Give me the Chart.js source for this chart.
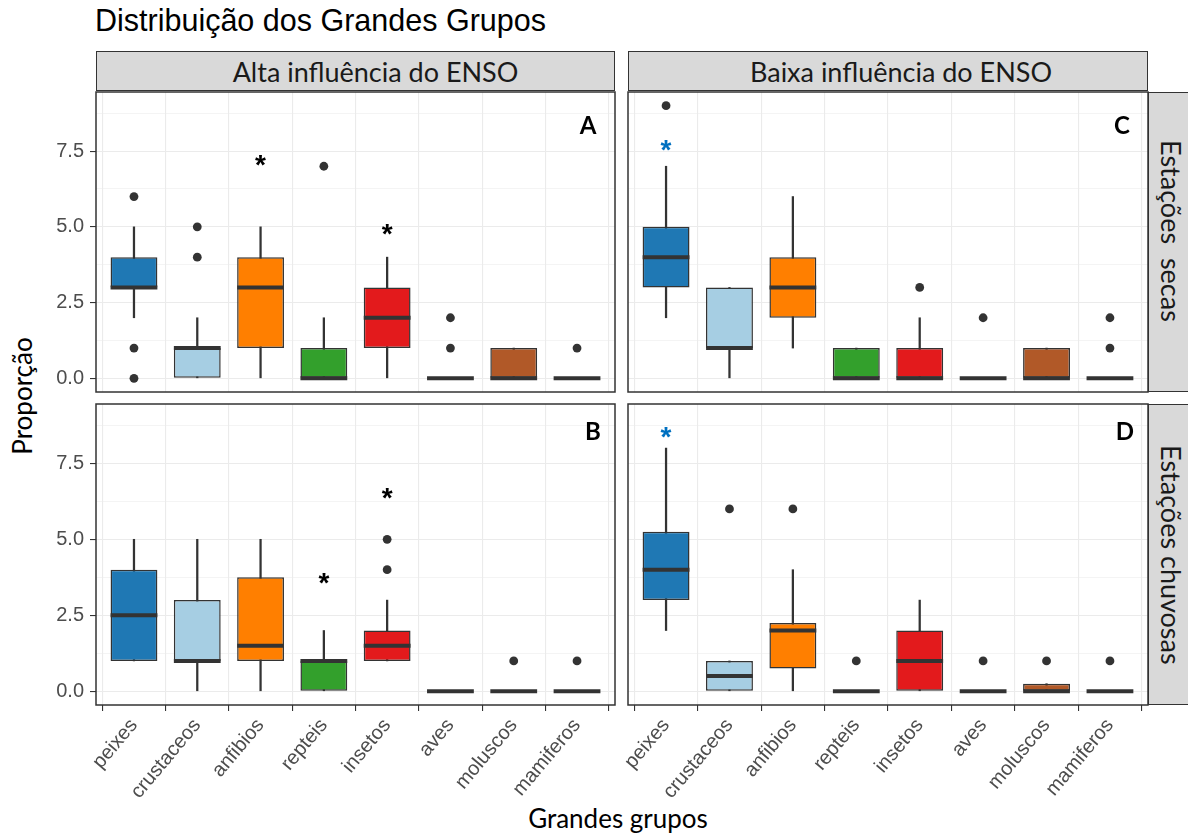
<!DOCTYPE html>
<html lang="pt">
<head>
<meta charset="utf-8">
<title>Distribuição dos Grandes Grupos</title>
<script src="https://cdn.jsdelivr.net/npm/chart.js@4"></script>
<style>
body{margin:0;background:#fff;width:1188px;height:835px;position:relative;overflow:hidden;font-family:Lato,sans-serif}
canvas{position:absolute}
.txt{position:absolute;white-space:pre;color:#000}
.strip{position:absolute;box-sizing:border-box;background:#d9d9d9;border:1.5px solid #333;display:flex;align-items:center;justify-content:center;font-size:27px;color:#1a1a1a;white-space:pre}
.strip.v{writing-mode:vertical-rl}
</style>
</head>
<body>
<div class="txt" style="left:95px;top:3px;font:30.5px/35px 'Liberation Sans',Arial,sans-serif">Distribuição dos Grandes Grupos</div>
<div class="strip" style="left:96px;top:51px;width:519px;height:40px;padding-left:40px">Alta influência do ENSO</div>
<div class="strip" style="left:628px;top:51px;width:520px;height:40px;padding-left:26px">Baixa influência do ENSO</div>
<div class="strip v" style="left:1148px;top:92px;width:46px;height:300px;padding-bottom:22px">Estações  secas</div>
<div class="strip v" style="left:1148px;top:404px;width:46px;height:301px">Estações chuvosas</div>
<div class="txt" style="left:22px;top:396px;font-size:26px;transform:translate(-50%,-50%) rotate(-90deg)">Proporção</div>
<div class="txt" style="left:618px;top:818px;font-size:26px;transform:translate(-50%,-50%)">Grandes grupos</div>

<canvas id="pA" width="620" height="308" style="left:0;top:88px"></canvas>
<canvas id="pC" width="540" height="308" style="left:620px;top:88px"></canvas>
<canvas id="pB" width="620" height="435" style="left:0;top:400px"></canvas>
<canvas id="pD" width="540" height="435" style="left:620px;top:400px"></canvas>

<script>
const groups = ['peixes','crustaceos','anfibios','repteis','insetos','aves','moluscos','mamiferos'];
const fills = ['#1f78b4','#a6cee3','#ff7f00','#33a02c','#e31a1c','#fb9a99','#b15928','#cab2d6'];
const yTicks = [0, 2.5, 5, 7.5];

// A: alta influencia, estacoes secas
const aLow  = [2, 0, 0, 0, 0, 0, 0, 0];
const aQ1   = [3, 0, 1, 0, 1, 0, 0, 0];
const aMed  = [3, 1, 3, 0, 2, 0, 0, 0];
const aQ3   = [4, 1, 4, 1, 3, 0, 1, 0];
const aHigh = [5, 2, 5, 2, 4, 0, 1, 0];
const aOut  = [[6, 1, 0], [4, 5], [], [7], [], [1, 2], [], [1]];
const aStar = [null, null, 7.2, null, 4.9, null, null, null];

// B: alta influencia, estacoes chuvosas
const bLow  = [1, 0, 0, 0, 1, 0, 0, 0];
const bQ1   = [1, 1, 1, 0, 1, 0, 0, 0];
const bMed  = [2.5, 1, 1.5, 1, 1.5, 0, 0, 0];
const bQ3   = [4, 3, 3.75, 1, 2, 0, 0, 0];
const bHigh = [5, 5, 5, 2, 3, 0, 0, 0];
const bOut  = [[], [], [], [], [4, 5], [], [1], [1]];
const bStar = [null, null, null, 3.7, 6.5, null, null, null];

// C: baixa influencia, estacoes secas
const cLow  = [2, 0, 1, 0, 0, 0, 0, 0];
const cQ1   = [3, 1, 2, 0, 0, 0, 0, 0];
const cMed  = [4, 1, 3, 0, 0, 0, 0, 0];
const cQ3   = [5, 3, 4, 1, 1, 0, 1, 0];
const cHigh = [7, 3, 6, 1, 2, 0, 1, 0];
const cOut  = [[9], [], [], [], [3], [2], [], [1, 2]];
const cStar = [7.7, null, null, null, null, null, null, null];

// D: baixa influencia, estacoes chuvosas
const dLow  = [2, 0, 0, 0, 0, 0, 0, 0];
const dQ1   = [3, 0, 0.75, 0, 0, 0, 0, 0];
const dMed  = [4, 0.5, 2, 0, 1, 0, 0, 0];
const dQ3   = [5.25, 1, 2.25, 0, 2, 0, 0.25, 0];
const dHigh = [8, 1, 4, 0, 3, 0, 0.25, 0];
const dOut  = [[], [6], [6], [1], [], [1], [1], [1]];
const dStar = [8.5, null, null, null, null, null, null, null];

Chart.defaults.font.family = '"Liberation Sans", Arial, sans-serif';

const panelDecor = {
  id: 'panelDecor',
  afterDatasetsDraw(chart, args, o) {
    const {ctx, chartArea: a, scales: {x, y}} = chart;
    ctx.save();
    ctx.strokeStyle = '#333'; ctx.lineWidth = 1.5;
    ctx.strokeRect(a.left, a.top, a.width, a.height);
    ctx.fillStyle = '#000';
    ctx.font = 'bold 24px Lato';
    ctx.textAlign = 'center'; ctx.textBaseline = 'middle';
    ctx.fillText(o.letter, a.right - o.letterDx, a.top + o.letterDy);
    ctx.font = 'bold 28px "Liberation Sans"';
    ctx.textBaseline = 'alphabetic';
    ctx.fillStyle = o.starColor;
    const m = ctx.measureText('*');
    const shift = (m.actualBoundingBoxAscent - m.actualBoundingBoxDescent) / 2;
    o.stars.forEach((v, i) => {
      if (v == null) return;
      ctx.fillText('*', x.getPixelForValue(i + 1), y.getPixelForValue(v) + shift);
    });
    ctx.restore();
  }
};

function panel(id, low, q1, med, q3, high, out, stars, opt) {
  const outPts = [];
  out.forEach((vals, i) => vals.forEach(v => outPts.push({x: i + 1, y: v})));
  const isMajor = v => yTicks.some(t => Math.abs(t - v) < 1e-6);
  return new Chart(document.getElementById(id), {
    type: 'bar',
    data: {
      datasets: [
        {type: 'bar', data: groups.map((g, i) => ({x: i + 1, y: [low[i], high[i]]})),
         backgroundColor: '#333', grouped: false, categoryPercentage: 1, barPercentage: 1,
         maxBarThickness: 1.6, order: 4},
        {type: 'bar', data: groups.map((g, i) => ({x: i + 1, y: [q1[i], q3[i]]})),
         backgroundColor: fills, borderColor: '#333', borderWidth: 1.5, borderSkipped: false,
         grouped: false, categoryPercentage: 1, barPercentage: 0.74, order: 3},
        {type: 'scatter', data: groups.map((g, i) => ({x: i + 1, y: med[i]})),
         pointStyle: 'line', pointRadius: 23.4, borderColor: '#333', borderWidth: 4, order: 2},
        {type: 'scatter', data: outPts, pointRadius: 4.4, backgroundColor: '#333',
         borderWidth: 0, order: 1}
      ]
    },
    options: {
      responsive: false, animation: false, events: [],
      layout: {autoPadding: false,
               padding: {left: 0, top: 4, right: opt.padRight, bottom: opt.bottom ? 0 : 4}},
      plugins: {
        legend: {display: false}, tooltip: {enabled: false},
        panelDecor: {letter: opt.letter, letterDx: opt.letterDx, letterDy: opt.letterDy,
                     stars, starColor: opt.starColor}
      },
      scales: {
        x: {
          type: 'linear', min: 0.4, max: 8.6, offset: false,
          border: {display: false},
          grid: {color: '#ebebeb', lineWidth: 1.1, drawTicks: opt.bottom, tickLength: 6,
                 tickColor: '#333', tickWidth: 1.1},
          ticks: {stepSize: 1, includeBounds: false, autoSkip: false, display: opt.bottom,
                  minRotation: 50, maxRotation: 50, padding: 3, color: '#4d4d4d',
                  font: {size: 20}, callback: v => groups[Math.round(v) - 1] || ''},
          afterFit: s => { s.height = opt.bottom ? 130 : 0; s.paddingLeft = 0; s.paddingRight = 0; }
        },
        y: {
          type: 'linear', min: -0.45, max: 9.45,
          border: {display: false},
          grid: {color: '#ebebeb', lineWidth: c => isMajor(c.tick.value) ? 1.1 : 0.55,
                 drawTicks: opt.left, tickLength: 6, tickWidth: 1.1,
                 tickColor: c => isMajor(c.tick.value) ? '#333' : 'rgba(0,0,0,0)'},
          ticks: {stepSize: 1.25, includeBounds: false, display: opt.left, padding: 6,
                  color: '#4d4d4d', font: {size: 20},
                  callback: v => isMajor(v) ? v.toFixed(1) : ''},
          afterFit: s => { s.width = opt.left ? 96 : 8; s.paddingTop = 0; s.paddingBottom = 0; }
        }
      }
    },
    plugins: [panelDecor]
  });
}

panel('pA', aLow, aQ1, aMed, aQ3, aHigh, aOut, aStar,
  {left: true, bottom: false, padRight: 5, letter: 'A', letterDx: 27, letterDy: 34, starColor: '#000'});
panel('pC', cLow, cQ1, cMed, cQ3, cHigh, cOut, cStar,
  {left: false, bottom: false, padRight: 12, letter: 'C', letterDx: 26, letterDy: 34, starColor: '#0070c0'});
panel('pB', bLow, bQ1, bMed, bQ3, bHigh, bOut, bStar,
  {left: true, bottom: true, padRight: 5, letter: 'B', letterDx: 22, letterDy: 28, starColor: '#000'});
panel('pD', dLow, dQ1, dMed, dQ3, dHigh, dOut, dStar,
  {left: false, bottom: true, padRight: 12, letter: 'D', letterDx: 23, letterDy: 28, starColor: '#0070c0'});
</script>
</body>
</html>
